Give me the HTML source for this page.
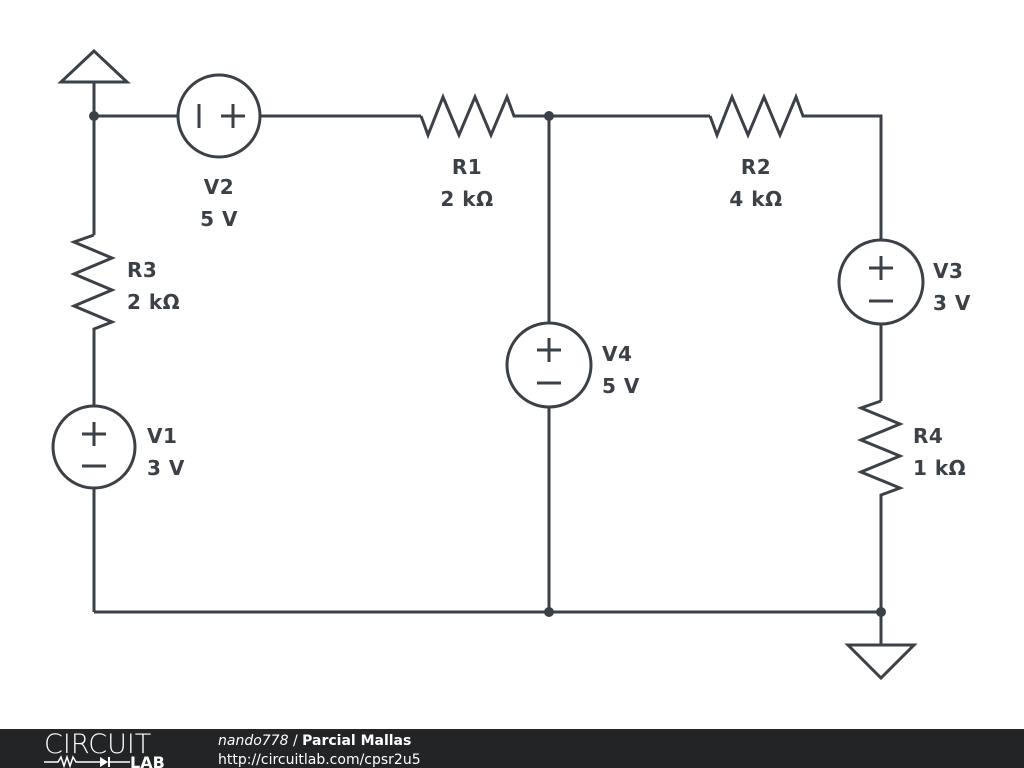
<!DOCTYPE html>
<html><head><meta charset="utf-8"><style>
html,body{margin:0;padding:0;background:#fff;}
svg{display:block}
text{font-family:"DejaVu Sans","Liberation Sans",sans-serif;}
</style></head><body>
<svg width="1024" height="768" viewBox="0 0 1024 768" xmlns="http://www.w3.org/2000/svg">
<g fill="none" stroke="#3b4146" stroke-width="3" stroke-linejoin="miter">
<polygon points="94,51 61,82 127,82"/>
<line x1="94" y1="82" x2="94" y2="235"/>
<line x1="94" y1="116" x2="178" y2="116"/>
<circle cx="219" cy="116" r="41"/>
<line x1="260" y1="116" x2="421" y2="116"/>
<polyline points="421,116 428,135 443,97 459,135 475,97 491,135 507,97 514,116 710,116"/>
<polyline points="710,116 717,135 732,97 748,135 764,97 780,135 796,97 803,116 881,116 881,240"/>
<line x1="199" y1="104" x2="199" y2="128"/>
<line x1="221" y1="116" x2="245" y2="116"/><line x1="233" y1="104" x2="233" y2="128"/>
<polyline points="94,235 74,242 112,258 74,274 112,290 74,306 112,322 94,329 94,406"/>
<circle cx="94" cy="447" r="41"/>
<line x1="82" y1="434" x2="106" y2="434"/><line x1="94" y1="422" x2="94" y2="446"/>
<line x1="82" y1="466" x2="106" y2="466"/>
<line x1="94" y1="488" x2="94" y2="612"/>
<line x1="549" y1="116" x2="549" y2="323"/>
<circle cx="549" cy="365" r="42"/>
<line x1="537" y1="350" x2="561" y2="350"/><line x1="549" y1="338" x2="549" y2="362"/>
<line x1="537" y1="383" x2="561" y2="383"/>
<line x1="549" y1="407" x2="549" y2="612"/>
<circle cx="881" cy="282" r="42"/>
<line x1="869" y1="268" x2="893" y2="268"/><line x1="881" y1="256" x2="881" y2="280"/>
<line x1="869" y1="301" x2="893" y2="301"/>
<line x1="881" y1="324" x2="881" y2="401"/>
<polyline points="881,401 861,408 900,424 861,440 900,456 861,472 900,488 881,495 881,645"/>
<line x1="94" y1="612" x2="881" y2="612"/>
<polygon points="848,645 914,645 881,678"/>
</g>
<g fill="#3b4146">
<circle cx="94" cy="116" r="5"/>
<circle cx="549" cy="116" r="5"/>
<circle cx="549" cy="612" r="5"/>
<circle cx="881" cy="612" r="5"/>
</g>
<g fill="#3b4146" font-weight="bold" font-size="20" letter-spacing="0.5">
<text x="219" y="194" text-anchor="middle">V2</text>
<text x="219" y="226" text-anchor="middle">5 V</text>
<text x="467" y="174" text-anchor="middle">R1</text>
<text x="467" y="206" text-anchor="middle">2 kΩ</text>
<text x="756" y="174" text-anchor="middle">R2</text>
<text x="756" y="206" text-anchor="middle">4 kΩ</text>
<text x="127" y="277">R3</text>
<text x="127" y="309">2 kΩ</text>
<text x="147" y="443">V1</text>
<text x="147" y="475">3 V</text>
<text x="602" y="361">V4</text>
<text x="602" y="393">5 V</text>
<text x="933" y="278">V3</text>
<text x="933" y="310">3 V</text>
<text x="913" y="443">R4</text>
<text x="913" y="475">1 kΩ</text>
</g>
<rect x="0" y="729" width="1024" height="39" fill="#222425"/>
<text x="44" y="753" fill="#fff" font-size="27" style="font-family:'DejaVu Sans ExtraLight','DejaVu Sans',sans-serif;font-weight:200">CIRCUIT</text>
<polyline points="44,762 58,762 61,757 64,766 67,757 70,766 73,757 76,762 100,762" fill="none" stroke="#fff" stroke-width="1.5"/>
<polygon points="100,757 100,767 108,762" fill="#fff"/>
<line x1="109" y1="757" x2="109" y2="767" stroke="#fff" stroke-width="2"/>
<line x1="109" y1="762" x2="130" y2="762" stroke="#fff" stroke-width="1.5"/>
<text x="130" y="768" fill="#fff" font-size="16" font-weight="bold">LAB</text>
<text x="218" y="745" fill="#fff" font-size="14"><tspan font-style="italic">nando778</tspan> / <tspan font-weight="bold">Parcial Mallas</tspan></text>
<text x="218" y="764" fill="#fff" font-size="14">http://circuitlab.com/cpsr2u5</text>
</svg>
</body></html>
